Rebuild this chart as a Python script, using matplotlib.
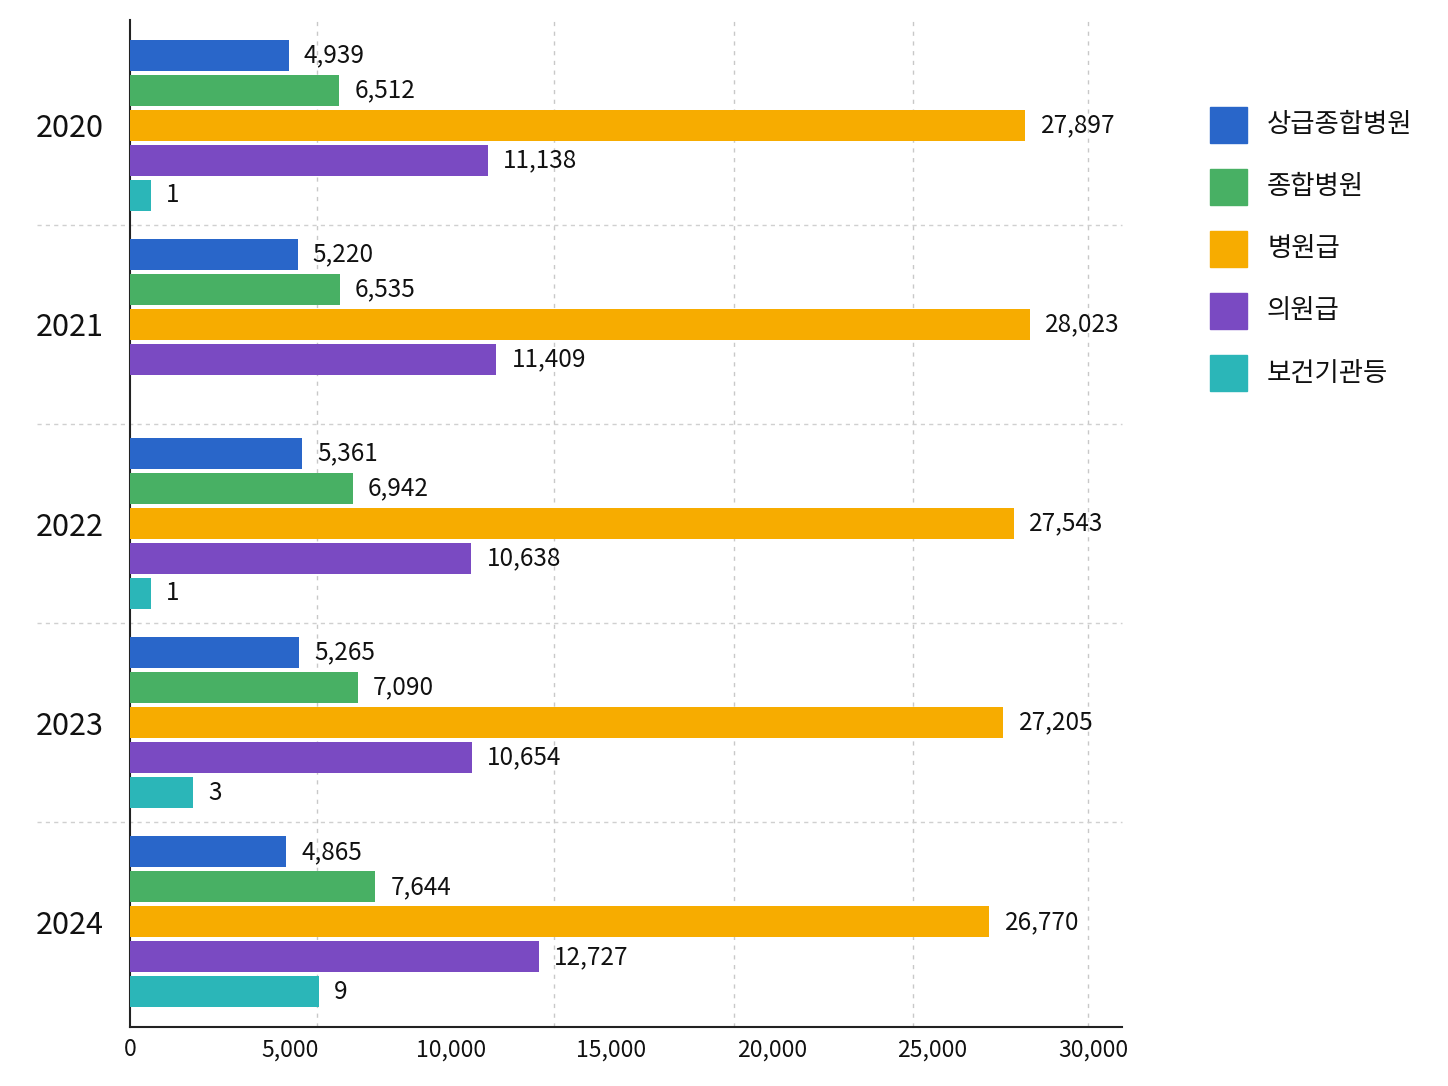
import matplotlib.pyplot as plt
import numpy as np
from matplotlib.patches import Rectangle
import matplotlib.transforms as mtransforms

plt.rcParams['font.family'] = ['Noto Sans CJK KR', 'DejaVu Sans']

years = ['2020', '2021', '2022', '2023', '2024']
series = ['상급종합병원', '종합병원', '병원급', '의원급', '보건기관등']
colors = ['#2966c9', '#48b064', '#f7ac00', '#7a4ac2', '#2bb6b8']

tertiary = [4939, 5220, 5361, 5265, 4865]
general = [6512, 6535, 6942, 7090, 7644]
hospital = [27897, 28023, 27543, 27205, 26770]
clinic = [11138, 11409, 10638, 10654, 12727]
public = [1, np.nan, 1, 3, 9]   # 2021 값 없음

main_series = [tertiary, general, hospital, clinic]

W, H = 1448, 1086
fig = plt.figure(figsize=(W / 100, H / 100), dpi=100)
ax = fig.add_axes([130/W, 1 - 1027/H, 992/W, 1007/H])
# 보건기관등은 값이 너무 작아서 별도 축 (그림과 같음)
ax2 = ax.twiny()

step = 35 / 199.25
bar_h = 31 / 199.25
y = np.arange(len(years))

for j, vals in enumerate(main_series):
    pos = y + (j - 2) * step
    ax.barh(pos, vals, height=bar_h, color=colors[j], zorder=3)
    for p, v in zip(pos, vals):
        ax.annotate('{:,}'.format(v), (v, p), xytext=(11, 0), textcoords='offset points',
                    va='center', ha='left', fontsize=17.5, color='#111111')

pos = y + 2 * step
ax2.barh(pos, public, height=bar_h, color=colors[4], zorder=3)
for p, v in zip(pos, public):
    if np.isnan(v):
        continue
    ax2.annotate('{:,}'.format(int(v)), (v, p), xytext=(11, 0), textcoords='offset points',
                 va='center', ha='left', fontsize=17.5, color='#111111')

ax.set_xlim(0, 992 / 0.0321)
ax2.set_xlim(0, 992 / 21)
ax.set_ylim(4.527, -0.527)
ax2.set_ylim(4.527, -0.527)

ax.set_xticks([0, 5000, 10000, 15000, 20000, 25000, 30000])
ax.set_xticklabels(['0', '5,000', '10,000', '15,000', '20,000', '25,000', '30,000'])
ax.set_yticks(y)
ax.set_yticklabels(years)
ax.tick_params(axis='x', length=0, pad=8, labelsize=16.5, colors='#111111')
ax.tick_params(axis='y', length=0, pad=19, labelsize=22, colors='#111111')

# grid lines (not at tick positions in the original)
for gx in [5840, 13220, 18810, 24400, 29840]:
    ax.axvline(gx, color='#c8c8c8', lw=1, ls=(0, (3, 4)), zorder=1)

# group separators, reaching past the axis on the left
trans = mtransforms.blended_transform_factory(ax.transAxes, ax.transData)
for i in range(len(years) - 1):
    ax.plot([-0.094, 1], [i + 0.5, i + 0.5], transform=trans, color='#d0d0d0',
            lw=1, ls=(0, (3, 3)), clip_on=False, zorder=1)

ax2.set_xticks([])
for a in (ax, ax2):
    a.spines['top'].set_visible(False)
    a.spines['right'].set_visible(False)
ax.spines['left'].set_linewidth(1.5)
ax.spines['bottom'].set_linewidth(1.5)
ax.spines['left'].set_color('#222222')
ax.spines['bottom'].set_color('#222222')
ax2.spines['left'].set_visible(False)
ax2.spines['bottom'].set_visible(False)

# legend drawn by hand so the spacing matches
for k, (name, c) in enumerate(zip(series, colors)):
    cy = 125 + 62 * k
    fig.add_artist(Rectangle((1210 / W, 1 - (cy + 18) / H), 37 / W, 36 / H,
                             transform=fig.transFigure, color=c))
    fig.text(1267 / W, 1 - cy / H, name, fontsize=19, va='center', ha='left',
             color='#111111')

fig.savefig('out.png', dpi=100, facecolor='white')
